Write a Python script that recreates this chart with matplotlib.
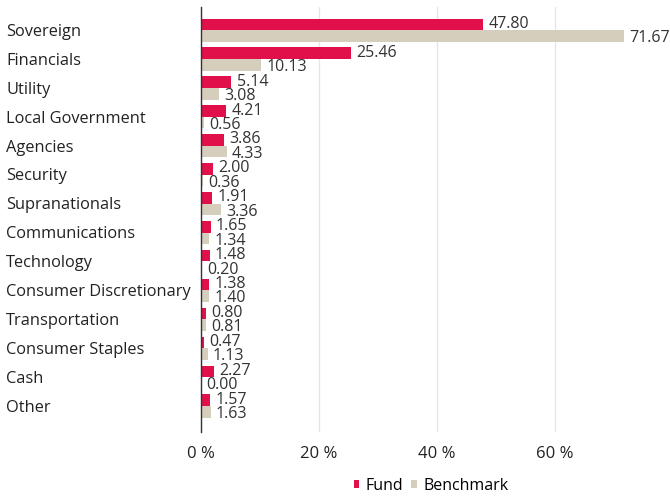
import matplotlib.pyplot as plt
import matplotlib.transforms as mtransforms
import numpy as np

categories = ["Sovereign", "Financials", "Utility", "Local Government", "Agencies",
              "Security", "Supranationals", "Communications", "Technology",
              "Consumer Discretionary", "Transportation", "Consumer Staples",
              "Cash", "Other"]
fund = [47.80, 25.46, 5.14, 4.21, 3.86, 2.00, 1.91, 1.65, 1.48, 1.38, 0.80, 0.47, 2.27, 1.57]
benchmark = [71.67, 10.13, 3.08, 0.56, 4.33, 0.36, 3.36, 1.34, 0.20, 1.40, 0.81, 1.13, 0.00, 1.63]
xticks = [0, 20, 40, 60]

FUND_COLOR = "#E2104A"
BENCH_COLOR = "#D6CEBC"

plt.rcParams["font.family"] = ["Open Sans", "DejaVu Sans"]

fig = plt.figure(figsize=(6.7, 4.99), dpi=100)
ax = fig.add_axes([201 / 670, 1 - 432 / 499, (661 - 201) / 670, (432 - 7) / 499])

y = np.arange(len(categories))
h = 0.4
ax.barh(y - h / 2, fund, height=h, color=FUND_COLOR, label="Fund", zorder=3)
ax.barh(y + h / 2, benchmark, height=h, color=BENCH_COLOR, label="Benchmark", zorder=3)

for yi, v in zip(y, fund):
    ax.text(v + 0.9, yi - h / 2 - 0.02, f"{v:.2f}", va="center", ha="left", fontsize=11.5, color="#333333")
for yi, v in zip(y, benchmark):
    ax.text(v + 0.9, yi + h / 2 + 0.08, f"{v:.2f}", va="center", ha="left", fontsize=11.5, color="#333333")

ax.set_ylim(len(categories) - 1 + 0.9, -0.8)
ax.set_xlim(0, 78)
ax.set_yticks(y)
ax.set_yticklabels([])
ax.tick_params(axis="y", length=0)
# category names left-aligned at the figure edge
trans = mtransforms.blended_transform_factory(fig.transFigure, ax.transData)
for yi, name in zip(y, categories):
    ax.text(6 / 670, yi + 0.06, name, transform=trans, ha="left", va="center",
            fontsize=11.8, color="#222222")

ax.set_xticks(xticks)
ax.set_xticklabels([f"{t} %" for t in xticks], fontsize=12, color="#222222")
ax.tick_params(axis="x", length=0, pad=10)

ax.grid(axis="x", color="#E6E6E6", linewidth=1, zorder=0)
for s in ["top", "right", "bottom"]:
    ax.spines[s].set_visible(False)
ax.spines["left"].set_color("#333333")
ax.spines["left"].set_linewidth(1)
ax.spines["left"].set_zorder(4)

ax.legend(loc="center", bbox_to_anchor=(0.5, -0.127), ncol=2, frameon=False,
          fontsize=11.5, handlelength=0.35, handleheight=0.35, handletextpad=0.4,
          columnspacing=0.5)

fig.savefig("out.png", dpi=100)
